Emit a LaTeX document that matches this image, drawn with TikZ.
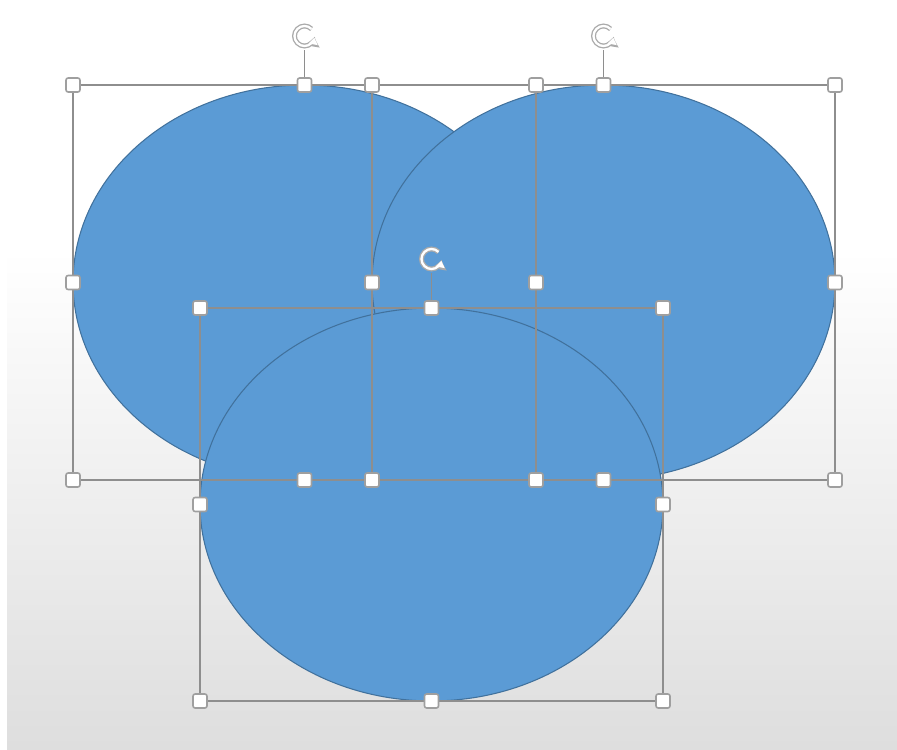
\documentclass[tikz,border=0pt]{standalone}
\usetikzlibrary{shapes.geometric,arrows.meta}
\definecolor{shapeblue}{HTML}{5B9BD5}
\definecolor{shapeedge}{HTML}{41719C}
\definecolor{framegray}{HTML}{8E8E8E}

\tikzset{
  blob/.style={ellipse,draw=shapeedge,fill=shapeblue,line width=0.6pt,
    minimum width=9.26cm,minimum height=7.9cm,inner sep=0pt},
  frame/.style={draw=framegray,line width=1.1pt},
  grip/.style={rectangle,draw=framegray!85,fill=white,line width=0.9pt,
    minimum size=0.28cm,inner sep=0pt,rounded corners=1.2pt},
}

\begin{document}
\begin{tikzpicture}[x=0.02cm,y=-0.02cm]
% backdrop
\fill[white] (0,0) rectangle (897,750);
\shade[top color=white,bottom color=black!13] (7,250) rectangle (897,750);

% the three shapes
\node[blob] (lefto) at (304.5,282.5) {};
\node[blob] (righto) at (603.5,282.5) {};
\node[blob,minimum height=7.86cm] (bottomo) at (431.5,504.5) {};

% selection frames
\foreach \n/\cx/\cy/\hh in {l/304.5/282.5/197.5, r/603.5/282.5/197.5, b/431.5/504.5/196.5}
    \foreach \s/\dx/\dy in {nw/-1/-1, n/0/-1, ne/1/-1, e/1/0, se/1/1, s/0/1, sw/-1/1, w/-1/0}
        \coordinate (\n\s) at (\cx+\dx*231.5,\cy+\dy*\hh);
\foreach \n in {l,r,b}
    \draw[frame] (\n nw) rectangle (\n se);

% rotation handles
\coordinate (lspin) at (304.5,36);
\coordinate (rspin) at (603.5,36);
\coordinate (bspin) at (431.5,259);
\foreach \n in {l,r,b}{
    \draw[frame,line width=0.8pt] (\n n) -- ([yshift=-0.28cm]\n spin);
    \draw[framegray!75,line width=2.8pt,-{Triangle[length=5pt,width=7.5pt]}]
        ([shift={(-45:10)}]\n spin) arc (-45:-350:10);
    \draw[white,line width=1.3pt,-{Triangle[length=3.8pt,width=5pt]}]
        ([shift={(-45:10)}]\n spin) arc (-45:-350:10);
}

% sizing grips
\foreach \n in {l,r,b}
    \foreach \s in {nw,n,ne,e,se,s,sw,w}
        \node[grip] (g\n\s) at (\n\s) {};
\end{tikzpicture}
\end{document}
